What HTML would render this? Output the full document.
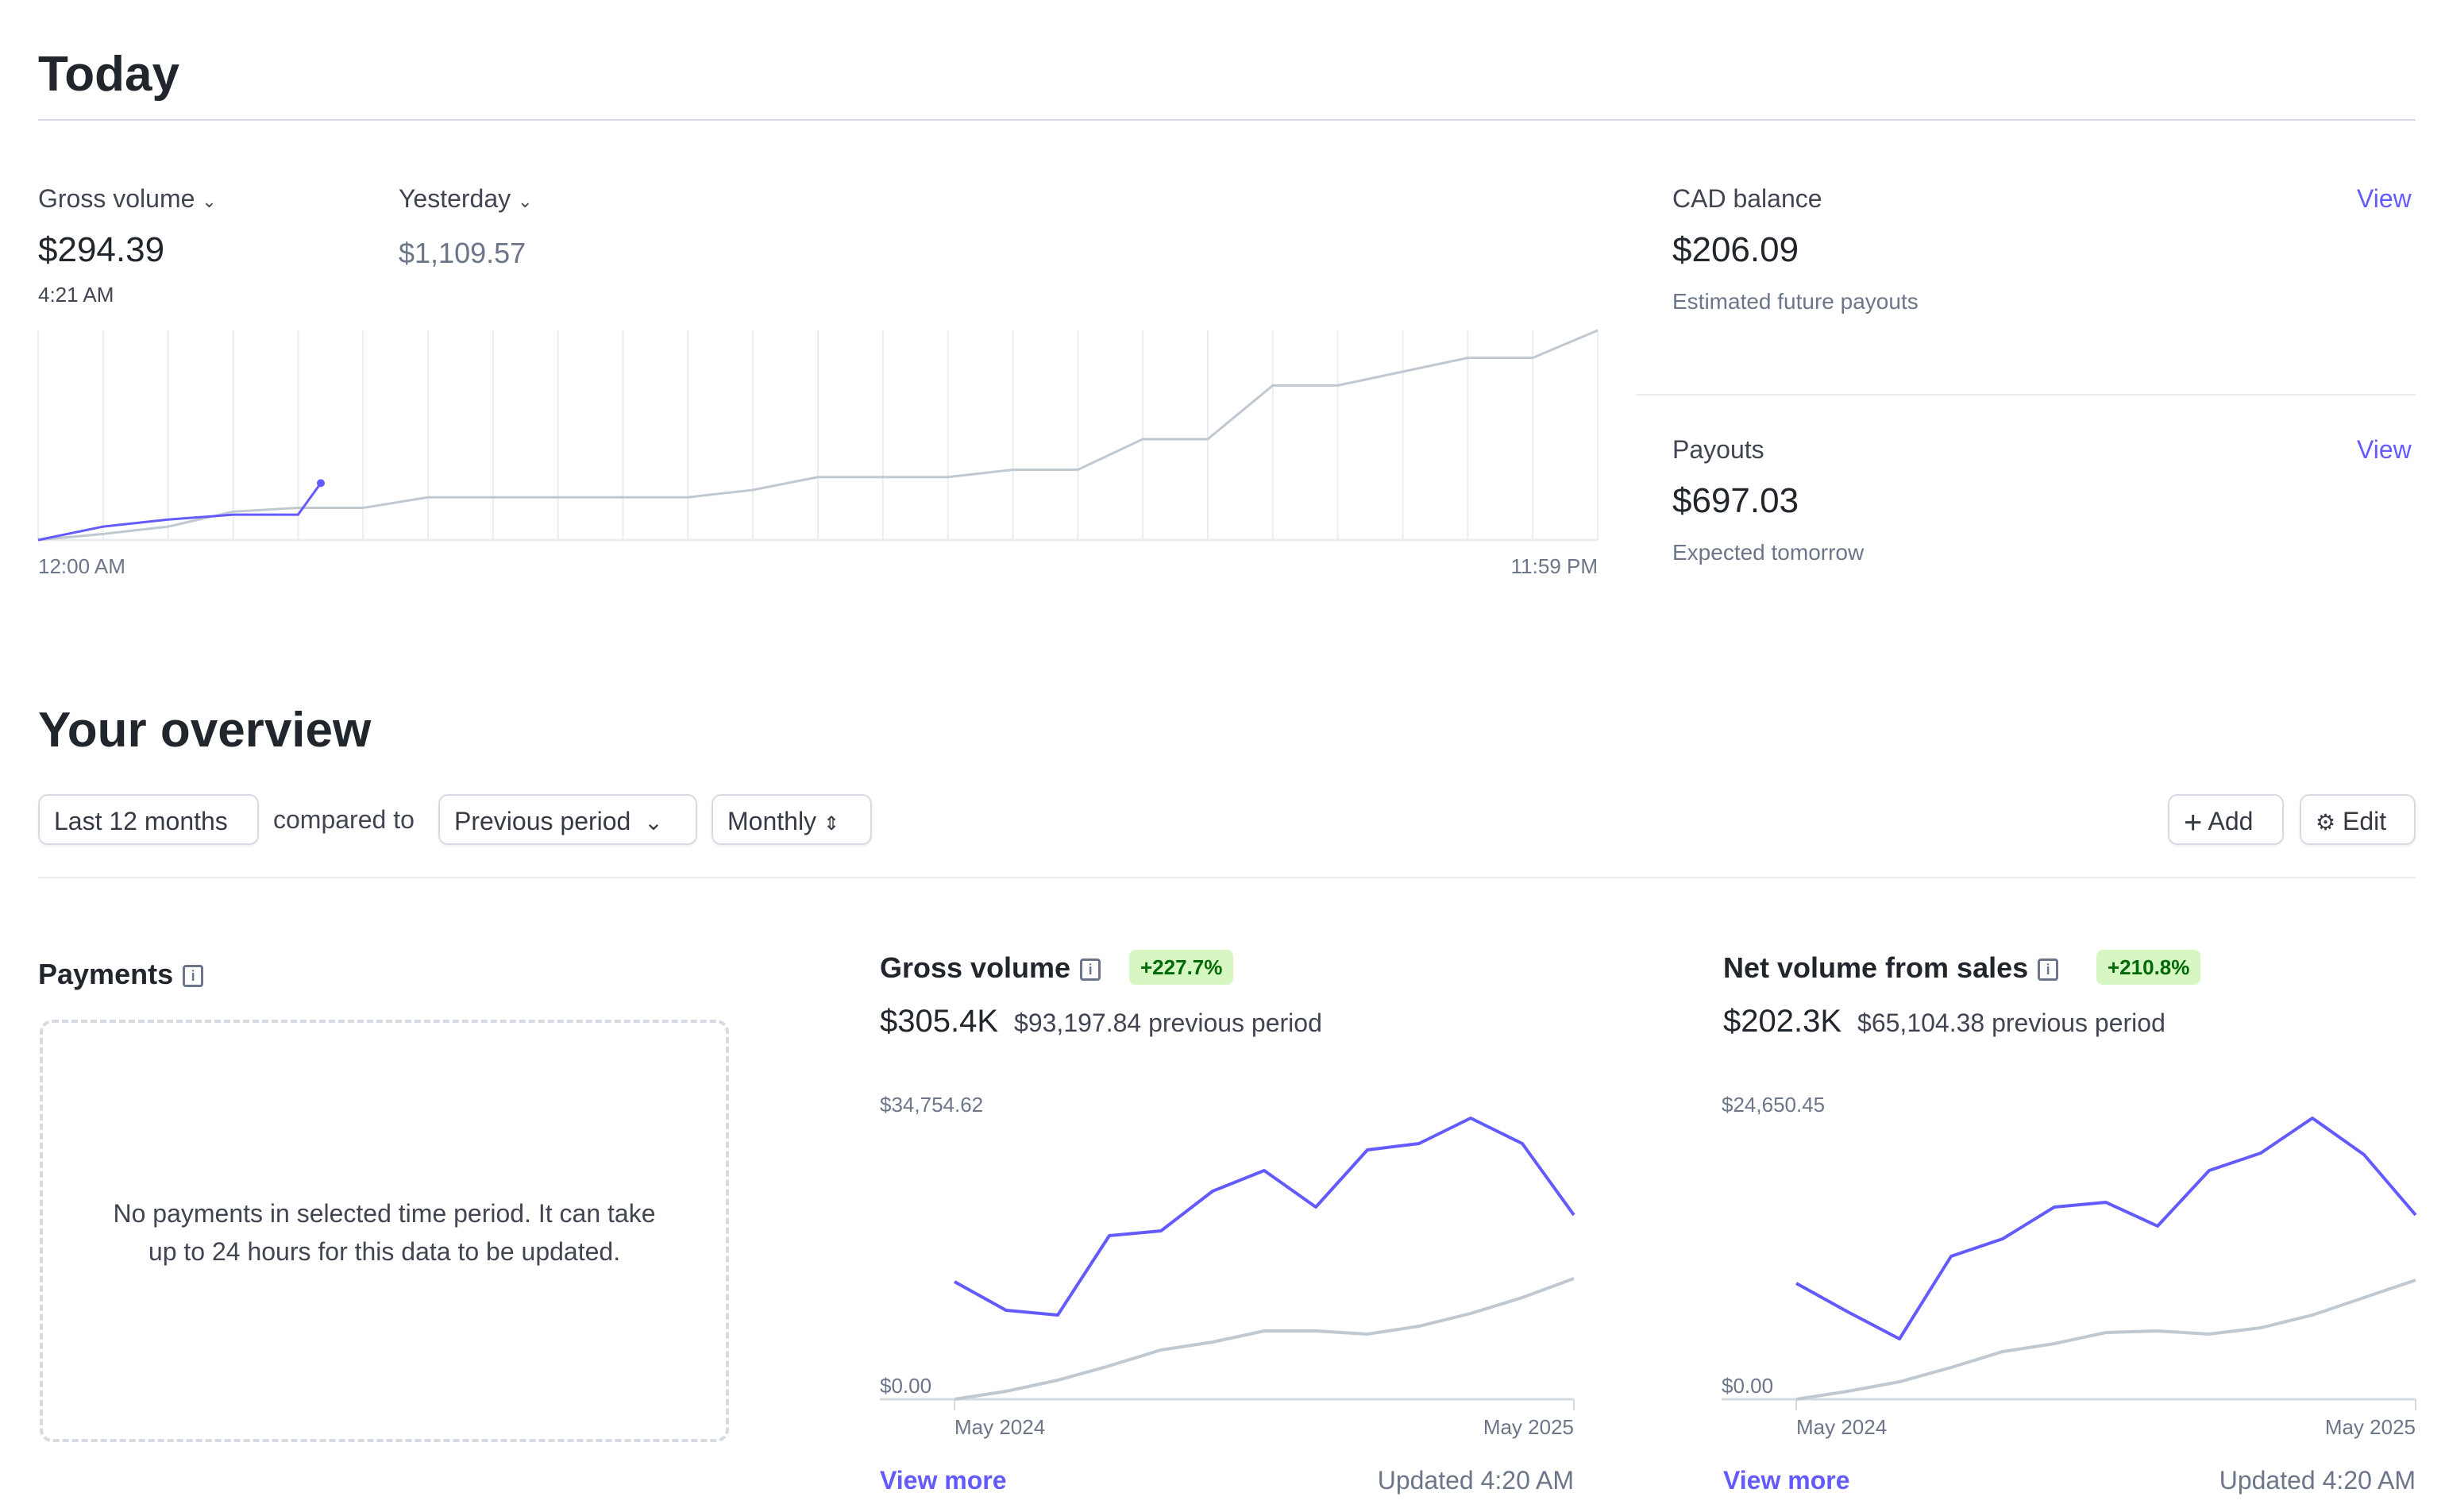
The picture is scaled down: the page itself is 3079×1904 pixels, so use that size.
<!DOCTYPE html>
<html><head><meta charset="utf-8">
<style>
html,body{margin:0;padding:0;background:#fff;}
body{width:3079px;height:1903px;overflow:hidden;}
#root{zoom:2;position:relative;width:1540px;height:952px;font-family:"Liberation Sans",sans-serif;color:#353a44;}
.a{position:absolute;white-space:nowrap;}
.h1{font-size:31px;font-weight:bold;color:#21252c;}
.lbl{font-size:16px;color:#414552;}
.big{font-size:22px;color:#21252c;}
.sub{font-size:14px;color:#6c7688;}
.link{color:#635bff;font-size:16px;}
.btn{position:absolute;top:500px;height:32px;border:1px solid #d5dbe1;border-radius:6px;box-shadow:0 1px 1px rgba(0,0,0,.06);font-size:16px;line-height:32px;color:#353a44;box-sizing:border-box;padding:0 9px;font-weight:500;}
.title{font-size:18px;font-weight:bold;color:#21252c;}
.badge{position:absolute;background:#d7f7c2;color:#006908;font-size:13px;font-weight:bold;border-radius:4px;padding:0 7px;height:22px;line-height:22px;}
.info{display:inline-block;width:10px;height:11px;border:1.5px solid #6c7688;border-radius:2px;font-size:9px;line-height:11px;text-align:center;color:#6c7688;font-weight:bold;vertical-align:2px;margin-left:6px;}
.axis{font-size:13px;fill:#6c7688;font-family:"Liberation Sans",sans-serif;}
</style></head><body>
<div id="root">
<div class="a h1" style="left:24px;top:29px">Today</div>
<div class="a" style="left:24px;top:75px;width:1497px;height:1px;background:#d5dbe1"></div>

<div class="a lbl" style="left:24px;top:116px">Gross volume <span style="font-size:11px">&#8964;</span></div>
<div class="a big" style="left:24px;top:145px">$294.39</div>
<div class="a" style="left:24px;top:178px;font-size:13px;color:#414552">4:21 AM</div>
<div class="a lbl" style="left:251px;top:116px">Yesterday <span style="font-size:11px">&#8964;</span></div>
<div class="a" style="left:251px;top:149px;font-size:18px;color:#6c7688">$1,109.57</div>

<svg class="a" style="left:0;top:0" width="1540" height="952" id="todaySvg"></svg>

<div class="a lbl" style="left:1053px;top:116px">CAD balance</div>
<div class="a link" style="left:1484px;top:116px">View</div>
<div class="a big" style="left:1053px;top:145px">$206.09</div>
<div class="a sub" style="left:1053px;top:182px">Estimated future payouts</div>
<div class="a" style="left:1030px;top:248px;width:491px;height:1px;background:#ebeef1"></div>
<div class="a lbl" style="left:1053px;top:274px">Payouts</div>
<div class="a link" style="left:1484px;top:274px">View</div>
<div class="a big" style="left:1053px;top:303px">$697.03</div>
<div class="a sub" style="left:1053px;top:340px">Expected tomorrow</div>

<div class="a h1" style="left:24px;top:442px">Your overview</div>
<div class="btn" style="left:24px;width:139px">Last 12 months</div>
<div class="a" style="left:172px;top:507px;font-size:16px;color:#414552">compared to</div>
<div class="btn" style="left:276px;width:163px">Previous period <span style="font-size:14px;margin-left:4px">&#8964;</span></div>
<div class="btn" style="left:448px;width:101px">Monthly <span style="font-size:12px">&#8661;</span></div>
<div class="btn" style="left:1365px;width:73px"><span style="font-size:20px;vertical-align:-2px">+</span> Add</div>
<div class="btn" style="left:1448px;width:73px"><span style="font-size:14px">&#9881;</span> Edit</div>
<div class="a" style="left:24px;top:552px;width:1497px;height:1px;background:#ebeef1"></div>

<div class="a title" style="left:24px;top:603px">Payments<span class="info">i</span></div>
<div class="a" style="left:25px;top:642px;width:430px;height:262px;border:2px dashed #d5dbe1;border-radius:8px"></div>
<div class="a" style="left:25px;top:752px;width:434px;text-align:center;font-size:16px;line-height:24px;color:#414552;white-space:normal">No payments in selected time period. It can take<br>up to 24 hours for this data to be updated.</div>

<div class="a title" style="left:554px;top:599px">Gross volume<span class="info">i</span></div>
<div class="badge" style="left:711px;top:598px">+227.7%</div>
<div class="a" style="left:554px;top:632px;font-size:20px;color:#21252c">$305.4K <span style="font-size:16px;color:#414552">&nbsp;$93,197.84 previous period</span></div>
<div class="a" style="left:554px;top:923px;font-size:16px;font-weight:bold;color:#635bff">View more</div>
<div class="a" style="left:791px;width:200px;text-align:right;top:923px;font-size:16px;color:#6c7688">Updated 4:20 AM</div>

<div class="a title" style="left:1085px;top:599px">Net volume from sales<span class="info">i</span></div>
<div class="badge" style="left:1320px;top:598px">+210.8%</div>
<div class="a" style="left:1085px;top:632px;font-size:20px;color:#21252c">$202.3K <span style="font-size:16px;color:#414552">&nbsp;$65,104.38 previous period</span></div>
<div class="a" style="left:1085px;top:923px;font-size:16px;font-weight:bold;color:#635bff">View more</div>
<div class="a" style="left:1321px;width:200px;text-align:right;top:923px;font-size:16px;color:#6c7688">Updated 4:20 AM</div>
</div>
<script>
// Today chart data (cumulative $ by hour)
const todayHours = [0,1,2,3,4,4.35];
const todayValues = [0,71,108,134,134,301];
const yesterdayHours = [0,1,2,3,4,5,6,7,8,9,10,11,12,13,14,15,16,17,18,19,20,21,22,23,24];
const yesterdayValues = [0,32,71,150,170,170,226,226,226,226,226,265,333,333,333,372,372,534,534,818,818,891,964,964,1109.57];
const todayMax = 1109.57;
// Gross volume monthly
const gvMonths = ["May 2024","Jun","Jul","Aug","Sep","Oct","Nov","Dec","Jan","Feb","Mar","Apr","May 2025"];
const gvCurrent = [14209,10752,10177,19777,20353,25153,27650,23233,30146,30914,33986,30914,22273];
const gvPrevious = [0,960,2304,4032,5952,6912,8256,8256,7872,8832,10368,12288,14593];
const gvMax = 34754.62;
// Net volume monthly
const nvCurrent = [9942,7490,5175,12257,13755,16479,16887,14845,19611,21109,24105,20973,15798];
const nvPrevious = [0,681,1498,2724,4085,4767,5720,5856,5584,6128,7218,8716,10214];
const nvMax = 24650.45;
const gvTickLabels = ["$34,754.62","$0.00"];
const nvTickLabels = ["$24,650.45","$0.00"];
const xTickLabels = ["May 2024","May 2025"];

const NS="http://www.w3.org/2000/svg";
const svg=document.getElementById('todaySvg');
function mk(tag,attrs){const e=document.createElementNS(NS,tag);for(const k in attrs)e.setAttribute(k,attrs[k]);svg.appendChild(e);return e;}
function txt(x,y,s,anchor){const t=mk('text',{x:x,y:y,class:'axis','text-anchor':anchor||'start'});t.textContent=s;return t;}

// Today chart
const tx=h=>24+h*(982/24), ty=v=>340-v/todayMax*132;
for(let i=0;i<=24;i++){const g=mk('line',{x1:tx(i),x2:tx(i),y1:208,y2:340,stroke:'#ebeef1','stroke-width':1});

}
const tb=mk('line',{x1:24,x2:1006,y1:340,y2:340,stroke:'#ebeef1','stroke-width':1.5});


const yl=mk('polyline',{points:yesterdayHours.map((h,i)=>tx(h)+','+ty(yesterdayValues[i])).join(' '),fill:'none',stroke:'#c0c8d2','stroke-width':1.5});


const tl=mk('polyline',{points:todayHours.map((h,i)=>tx(h)+','+ty(todayValues[i])).join(' '),fill:'none',stroke:'#635bff','stroke-width':1.5});


const last=todayHours.length-1;
const dot=mk('circle',{cx:tx(todayHours[last]),cy:ty(todayValues[last]),r:2.5,fill:'#635bff'});


const t1=txt(24,361,'12:00 AM');


const t2=txt(1006,361,'11:59 PM','end');



function monthly(x0,cur,prev,max,ticks,prefix){
  const x=i=>x0+47+i*(390/(cur.length-1)), y=v=>881-v/max*181;
  const a=txt(x0,700,ticks[0]);
  
  
  const b=txt(x0,877,ticks[1]);
  
  
  const base=mk('line',{x1:x0,x2:x(cur.length-1),y1:881,y2:881,stroke:'#d5dbe1','stroke-width':1.5});
  
  
  [0,cur.length-1].forEach(i=>{const tk=mk('line',{x1:x(i),x2:x(i),y1:881,y2:888,stroke:'#d5dbe1','stroke-width':1});
  
  });
  const c=txt(x(0),903,xTickLabels[0]);
  
  
  const d=txt(x(cur.length-1),903,xTickLabels[1],'end');
  
  
  const p=mk('polyline',{points:prev.map((v,i)=>x(i)+','+y(v)).join(' '),fill:'none',stroke:'#c0c8d2','stroke-width':2});
  
  
  const l=mk('polyline',{points:cur.map((v,i)=>x(i)+','+y(v)).join(' '),fill:'none',stroke:'#635bff','stroke-width':2,'stroke-linejoin':'round'});
  
  
}
monthly(554,gvCurrent,gvPrevious,gvMax,gvTickLabels,'gross-volume');
monthly(1084,nvCurrent,nvPrevious,nvMax,nvTickLabels,'net-volume');
</script>
</body></html>
